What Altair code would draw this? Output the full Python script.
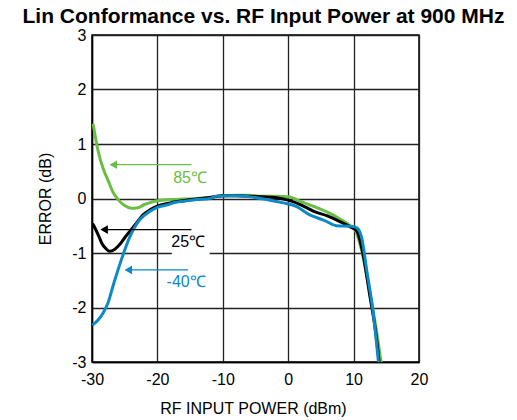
import altair as alt
import pandas as pd

# ---- data ----
x85 = [-29.8, -29.1, -28.3, -27.5, -26.8, -26.0, -25.0, -24.0, -23.0, -22.0, -21.0, -20.0, -18.0, -16.0,
       -14.0, -12.0, -10.0, -8.0, -6.0, -4.0, -2.0, 0.0, 2.0, 4.0, 6.0, 8.0, 9.5, 10.2, 11.2, 12.3, 13.3, 14.2]
y85 = [1.35, 0.89, 0.55, 0.32, 0.12, -0.02, -0.13, -0.18, -0.17, -0.11, -0.07, -0.04, -0.02, -0.01,
       0.0, 0.02, 0.05, 0.06, 0.06, 0.04, 0.04, 0.03, -0.06, -0.15, -0.25, -0.38, -0.50, -0.57, -0.94, -1.61, -2.28, -3.0]

x25 = [-29.8, -29.0, -28.5, -27.8, -27.3, -26.5, -25.8, -25.0, -24.0, -23.0, -22.2, -21.0, -20.2, -18.0,
       -16.0, -14.0, -12.0, -10.0, -8.0, -6.0, -4.0, -2.0, 0.0, 2.0, 4.0, 6.0, 8.0, 9.5, 10.5, 11.5, 12.5, 13.5, 13.9]
y25 = [-0.48, -0.68, -0.82, -0.93, -0.97, -0.93, -0.85, -0.72, -0.57, -0.42, -0.30, -0.20, -0.15, -0.08,
       -0.04, -0.01, 0.02, 0.05, 0.05, 0.04, 0.03, 0.02, -0.03, -0.12, -0.24, -0.32, -0.43, -0.52, -0.60, -1.06, -1.80, -2.56, -3.0]

xm40 = [-29.8, -29.0, -28.3, -27.5, -26.8, -26.0, -25.5, -24.8, -24.2, -23.5, -22.7, -21.2, -19.7, -18.6,
        -17.2, -15.9, -14.0, -12.0, -11.0, -9.5, -8.0, -5.8, -3.3, -0.75, 1.3, 3.3, 5.5, 7.4, 9.45, 10.2, 10.7,
        11.2, 12.0, 13.0, 13.8]
ym40 = [-2.31, -2.22, -2.10, -1.90, -1.61, -1.30, -1.12, -0.88, -0.70, -0.53, -0.39, -0.24, -0.15, -0.12,
        -0.07, -0.05, -0.02, 0.0, 0.04, 0.05, 0.05, 0.03, -0.02, -0.08, -0.15, -0.30, -0.40, -0.50, -0.51, -0.52, -0.56,
        -0.70, -1.31, -2.10, -3.0]

labels = ["85℃", "25℃", "-40℃"]
colors = ["#6BBE45", "#000000", "#0E89C8"]
arrow_tail_x = [-14.8, -14.8, -15.3]
arrow_tip_x = [-27.5, -28.9, -25.2]
arrow_y = [0.62, -0.57, -1.31]
label_x = [-15.0, -15.3, -15.6]
label_y = [0.38, -0.79, -1.54]
label_bg_x = [-17.8, -12.0]
label_bg_y = [-0.64, -1.04]

x_ticks = [-30, -20, -10, 0, 10, 20]
y_ticks = [-3, -2, -1, 0, 1, 2, 3]

FONT = "Liberation Sans"
W, H = 327, 327

xscale = alt.Scale(domain=[-30, 20], nice=False, zero=False)
yscale = alt.Scale(domain=[-3, 3], nice=False, zero=False)
xaxis = alt.Axis(values=x_ticks, title="RF INPUT POWER (dBm)", grid=True, ticks=False, tickSize=0,
                 labelFlush=False, labelPadding=9, titleY=51, titleX=161, titleBaseline="alphabetic",
                 labelExpr="'' + datum.value")
yaxis = alt.Axis(values=y_ticks, title="ERROR (dB)", grid=True, ticks=False, tickSize=0,
                 labelPadding=6, titleX=-47, titleY=H / 2, titleAngle=270, titleBaseline="middle",
                 titleAlign="center", labelExpr="'' + datum.value")


def X(field):
    return alt.X(field, type="quantitative", scale=xscale, axis=xaxis)


def Y(field):
    return alt.Y(field, type="quantitative", scale=yscale, axis=yaxis)


layers = []
for xs, ys, c in [(x85, y85, colors[0]), (x25, y25, colors[1]), (xm40, ym40, colors[2])]:
    d = pd.DataFrame({"x": xs, "y": ys})
    layers.append(
        alt.Chart(d).mark_line(strokeWidth=3, interpolate="monotone", clip=True,
                               strokeCap="round", strokeJoin="round")
        .encode(x=X("x"), y=Y("y"), color=alt.value(c))
    )

bg = pd.DataFrame({"x": [label_bg_x[0]], "x2": [label_bg_x[1]], "y": [label_bg_y[0]], "y2": [label_bg_y[1]]})
layers.append(
    alt.Chart(bg).mark_rect(color="white").encode(x=X("x"), x2="x2", y=Y("y"), y2="y2")
)

ann = pd.DataFrame({
    "label": labels, "color": colors, "tail": arrow_tail_x, "tip": arrow_tip_x,
    "ay": arrow_y, "lx": label_x, "ly": label_y,
})
ann["head"] = ann["tip"] + 0.75

cscale = alt.Scale(domain=labels, range=colors)
layers.append(
    alt.Chart(ann).mark_rule(strokeWidth=1.2).encode(
        x=X("tail"), x2="head", y=Y("ay"), color=alt.Color("label:N", scale=cscale, legend=None))
)
layers.append(
    alt.Chart(ann).mark_point(shape="triangle-left", filled=True, size=75, opacity=1).encode(
        x=X("head"), y=Y("ay"), color=alt.Color("label:N", scale=cscale, legend=None))
)
layers.append(
    alt.Chart(ann).mark_text(fontSize=16, font=FONT, align="center", baseline="middle").encode(
        x=X("lx"), y=Y("ly"), text="label:N", color=alt.Color("label:N", scale=cscale, legend=None))
)

chart = (
    alt.layer(*layers)
    .properties(
        width=W, height=H,
        title=alt.TitleParams("Lin Conformance vs. RF Input Power at 900 MHz", fontSize=21,
                              font=FONT, fontWeight="bold", color="black", dx=8, offset=0),
        autosize=alt.AutoSizeParams(type="none"),
        padding={"left": 84, "top": 27, "right": 90, "bottom": 60},
    )
    .configure_view(stroke="black", strokeWidth=1.5)
    .configure_axis(
        labelFont=FONT, titleFont=FONT, labelFontSize=16, titleFontSize=16,
        labelColor="black", titleColor="black", titleFontWeight="normal",
        gridColor="#222222", gridWidth=1.3, gridOpacity=1,
        domainColor="black", domainWidth=1.5,
    )
)

chart.save("out.html", embed_options={"renderer": "svg", "actions": False})
